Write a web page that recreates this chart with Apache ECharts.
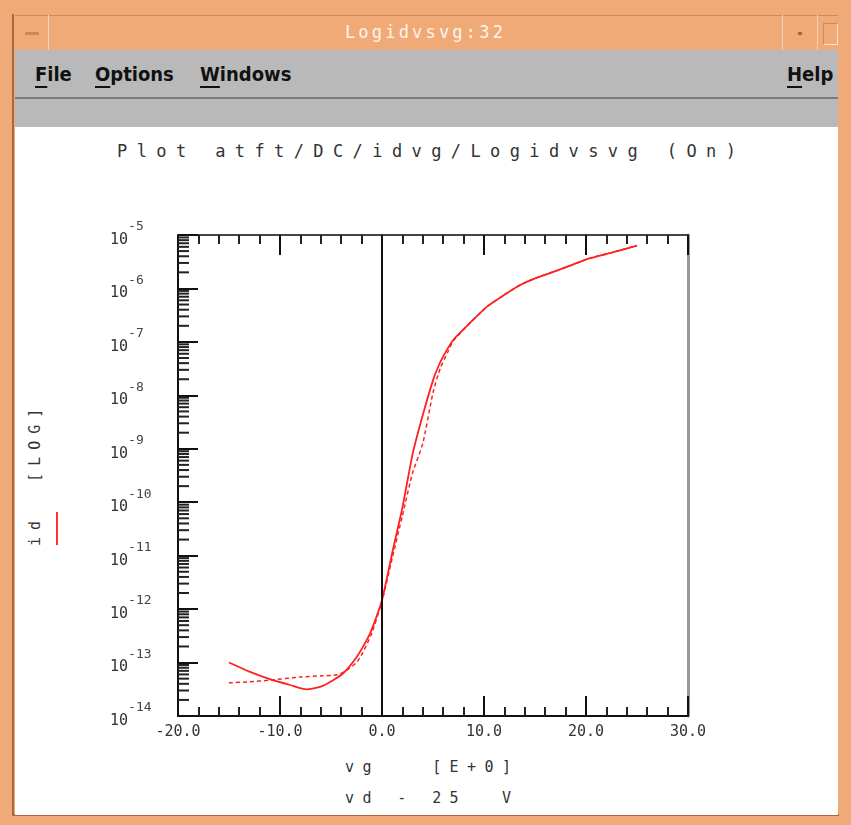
<!DOCTYPE html>
<html>
<head>
<meta charset="utf-8">
<title>Logidvsvg:32</title>
<script src="https://cdn.jsdelivr.net/npm/echarts@6/dist/echarts.min.js"></script>
<style>
body { margin:0; width:851px; height:825px; overflow:hidden; background:#efaa78; font-family:"DejaVu Sans Mono", monospace; }
.abs { position:absolute; }
#frame { left:0; top:0; width:851px; height:825px; background:#efaa78; }
#titlebar { left:15px; top:15px; width:823px; height:35px; background:#efaa78; border-top:1px solid #c98a5c; }
#wtitle { left:0; top:15px; width:851px; height:35px; line-height:35px; text-align:center; color:#fff4ea; font-size:17px; letter-spacing:3.2px; }
#menubar { left:15px; top:50px; width:823px; height:47px; background:#b9b9b9; }
#sep { left:15px; top:97px; width:823px; height:2px; background:#7a7a7a; }
#band { left:15px; top:99px; width:823px; height:28px; background:#b9b9b9; }
#white { left:15px; top:127px; width:823px; height:688px; background:#ffffff; }
.vline { width:1px; background:#f7d2b4; }
.menu { top:62px; font-family:"Liberation Sans Narrow","DejaVu Sans Condensed",sans-serif; font-weight:bold; font-size:20px; color:#111; }
.menu u { text-underline-offset:5px; text-decoration-thickness:2px; }
.lbl { color:#333; font-size:15px; white-space:pre; }
#chart { left:0; top:0; width:851px; height:825px; }
</style>
</head>
<body>
<div id="frame" class="abs"></div>
<div class="abs" style="left:12px;top:14px;width:2px;height:802px;background:#a8683c;"></div>
<div class="abs" style="left:12px;top:814px;width:827px;height:2px;background:#a8683c;"></div>
<div id="titlebar" class="abs"></div>
<div class="abs vline" style="left:48px;top:15px;height:35px;"></div>
<div class="abs vline" style="left:782px;top:15px;height:35px;"></div>
<div class="abs vline" style="left:817px;top:15px;height:35px;"></div>
<div class="abs" style="left:25px;top:32px;width:14px;height:3px;background:#c98a5c;"></div>
<div class="abs" style="left:798px;top:32px;width:4px;height:3px;background:#9a6a48;"></div>
<div class="abs" style="left:823px;top:23px;width:13px;height:20px;border:1px solid #c98a5c;border-right-color:#fbe0c8;border-bottom-color:#fbe0c8;"></div>
<div id="wtitle" class="abs">Logidvsvg:32</div>
<div id="menubar" class="abs"></div>
<div class="abs menu" style="left:35px;"><u>F</u>ile</div>
<div class="abs menu" style="left:95px;"><u>O</u>ptions</div>
<div class="abs menu" style="left:200px;"><u>W</u>indows</div>
<div class="abs menu" style="left:787px;"><u>H</u>elp</div>
<div id="sep" class="abs"></div>
<div id="band" class="abs"></div>
<div id="white" class="abs"></div>

<div class="abs lbl" style="left:117px;top:141px;font-size:17px;letter-spacing:9.4px;">Plot atft/DC/idvg/Logidvsvg (On)</div>
<div class="abs lbl" style="left:345px;top:758px;letter-spacing:8.4px;">vg   [E+0]</div>
<div class="abs lbl" style="left:345px;top:789px;letter-spacing:8.4px;">vd - 25  V</div>
<div class="abs lbl" style="left:-40px;top:462px;width:150px;letter-spacing:7px;transform:rotate(-90deg);transform-origin:center;text-align:left;">id  [LOG]</div>
<div class="abs" style="left:56px;top:512px;width:2px;height:33px;background:#ff3030;"></div>

<div id="chart" class="abs"></div>

<script>
// vg sweep, solid trace (log10 of id)
var vgSolid = [-15, -13, -11, -9, -7.4, -6, -4.8, -3.8, -2.5, -1.5, -1, 0, 1, 2, 3, 4, 5, 5.5, 6, 7, 8.6, 10.3, 12, 13.5, 15, 16.8, 18.5, 20.1, 22.5, 25];
var idSolid = [-13.0, -13.17, -13.31, -13.42, -13.5, -13.45, -13.33, -13.2, -12.9, -12.58, -12.38, -11.83, -10.95, -10.1, -9.1, -8.37, -7.72, -7.47, -7.27, -6.96, -6.65, -6.34, -6.12, -5.94, -5.81, -5.69, -5.57, -5.45, -5.33, -5.2];
// dashed trace
var vgDash = [-15, -13, -11, -8, -6, -4.4, -3.5, -2.5, -1.9, -1, 0, 1, 2, 3, 4, 5, 5.7, 6.5, 7, 8.6, 10.3, 12, 13.5, 15, 16.8, 18.5, 20.1, 22.5, 25];
var idDash = [-13.38, -13.36, -13.33, -13.27, -13.25, -13.23, -13.15, -13.0, -12.82, -12.45, -11.85, -11.05, -10.25, -9.45, -8.9, -7.95, -7.5, -7.17, -6.98, -6.65, -6.34, -6.12, -5.94, -5.81, -5.69, -5.57, -5.45, -5.33, -5.2];
// y decades (exponents) and minor tick multipliers
var decades = [-14, -13, -12, -11, -10, -9, -8, -7, -6];
var minorMult = [2, 3, 4, 5, 6, 7, 8, 9];

function pairs(xs, ys) {
	var out = [];
	for (var i = 0; i < xs.length; i++) {
		out.push([xs[i], ys[i]]);
	}
	return out;
}
var minorTicks = [];
for (var d = 0; d < decades.length; d++) {
	for (var m = 0; m < minorMult.length; m++) {
		minorTicks.push([-20, decades[d] + Math.log10(minorMult[m])]);
	}
}

var chart = echarts.init(document.getElementById('chart'), null, {renderer: 'canvas'});
var xAxisBase = {
	type: 'value', min: -20, max: 30, interval: 10,
	axisLine: {onZero: false, lineStyle: {color: '#111', width: 2}},
	axisTick: {inside: true, length: 20, lineStyle: {color: '#111', width: 2}},
	minorTick: {show: true, splitNumber: 5, length: 9, lineStyle: {color: '#222', width: 2}},
	splitLine: {show: false}
};
var option = {
	animation: false,
	grid: {left: 178, top: 235, width: 510, height: 481, containLabel: false},
	xAxis: [
		Object.assign({}, xAxisBase, {
			position: 'bottom',
			axisLabel: {
				margin: 9, color: '#333', fontSize: 15, fontFamily: 'DejaVu Sans Mono',
				formatter: function(v) { return v.toFixed(1); }
			}
		}),
		Object.assign({}, xAxisBase, {position: 'top', axisLabel: {show: false},
			axisLine: {onZero: false, lineStyle: {color: '#444', width: 2}}})
	],
	yAxis: [
		{
			type: 'value', min: -14, max: -5, interval: 1, position: 'left',
			axisLine: {onZero: false, lineStyle: {color: '#111', width: 2}},
			axisTick: {inside: true, length: 20, lineStyle: {color: '#111', width: 2}},
			splitLine: {show: false},
			axisLabel: {
				align: 'left', margin: 68, color: '#333', fontFamily: 'DejaVu Sans Mono',
				formatter: function(v) { return '{b|10}{s|' + v + '}'; },
				rich: {
					b: {fontSize: 15, fontFamily: 'DejaVu Sans Mono', color: '#333', padding: [10, 0, 0, 0]},
					s: {fontSize: 13, fontFamily: 'DejaVu Sans Mono', color: '#444', padding: [0, 0, 16, 0]}
				}
			}
		},
		{
			type: 'value', min: -14, max: -5, position: 'right',
			axisLine: {onZero: false, lineStyle: {color: '#999', width: 3}},
			axisTick: {show: false}, axisLabel: {show: false}, splitLine: {show: false}
		}
	],
	series: [
		{
			type: 'custom', coordinateSystem: 'cartesian2d', silent: true, clip: false,
			data: minorTicks,
			renderItem: function(params, api) {
				var p = api.coord([api.value(0), api.value(1)]);
				return {type: 'line', shape: {x1: p[0], y1: p[1], x2: p[0] + 11, y2: p[1]},
					style: {stroke: '#222', lineWidth: 2}};
			}
		},
		{
			type: 'line', data: pairs(vgSolid, idSolid), showSymbol: false, smooth: 0.2,
			lineStyle: {color: '#ff2020', width: 1.8},
			markLine: {
				silent: true, symbol: 'none', label: {show: false},
				lineStyle: {color: '#111', width: 2, type: 'solid'},
				data: [{xAxis: 0}]
			}
		},
		{
			type: 'line', data: pairs(vgDash, idDash), showSymbol: false, smooth: 0.2,
			lineStyle: {color: '#ff2020', width: 1.5, type: [4, 3]}
		}
	]
};
chart.setOption(option);
</script>
</body>
</html>
